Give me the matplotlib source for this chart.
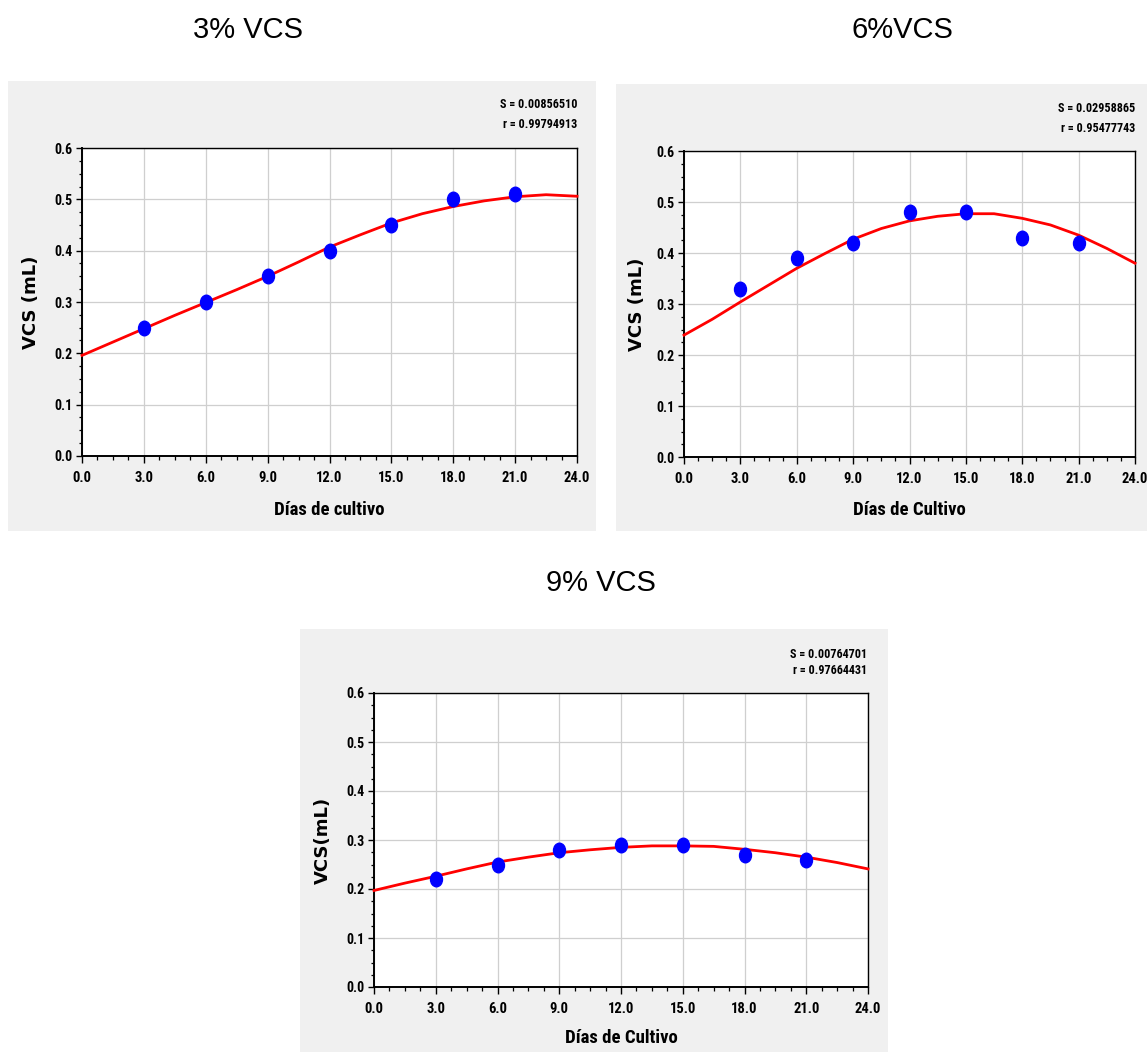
import matplotlib
matplotlib.use("Agg")
import matplotlib.pyplot as plt
import numpy as np
from matplotlib.patches import Rectangle
from matplotlib.path import Path
from matplotlib.ticker import MultipleLocator
from matplotlib.font_manager import FontProperties

# ---------------- data ----------------
dias = [3, 6, 9, 12, 15, 18, 21]

vcs3 = [0.25, 0.30, 0.35, 0.40, 0.45, 0.50, 0.51]
vcs6 = [0.33, 0.39, 0.42, 0.48, 0.48, 0.43, 0.42]
vcs9 = [0.22, 0.25, 0.28, 0.29, 0.29, 0.27, 0.26]

# fitted curves
curve_x = [0, 1.5, 3, 4.5, 6, 7.5, 9, 10.5, 12, 13.5, 15, 16.5, 18, 19.5, 21, 22.5, 24]
fit3 = [0.196, 0.222, 0.248, 0.274, 0.299, 0.324, 0.350, 0.378, 0.407, 0.431, 0.454,
        0.472, 0.486, 0.497, 0.505, 0.509, 0.506]
fit6 = [0.239, 0.270, 0.304, 0.337, 0.370, 0.399, 0.427, 0.448, 0.463, 0.472, 0.477,
        0.477, 0.468, 0.455, 0.435, 0.409, 0.380]
fit9 = [0.197, 0.212, 0.226, 0.241, 0.255, 0.265, 0.274, 0.280, 0.285, 0.288, 0.288,
        0.287, 0.281, 0.274, 0.265, 0.254, 0.241]

titles = ["3% VCS", "6%VCS", "9% VCS"]
xlabels = ["Días de cultivo", "Días de Cultivo", "Días de Cultivo"]
ylabels = ["VCS (mL)", "VCS (mL)", "VCS(mL)"]
stats_S = ["S = 0.00856510", "S = 0.02958865", "S = 0.00764701"]
stats_r = ["r = 0.99794913", "r = 0.95477743", "r = 0.97664431"]

# ---------------- layout ----------------
W, H = 1147, 1052
fig = plt.figure(figsize=(W / 100, H / 100), dpi=100)
fig.patch.set_facecolor("white")

NARROW = dict(family=["Roboto Condensed", "Archivo Narrow", "DejaVu Sans"],
              stretch="condensed", weight="bold")
ARIAL = ["Liberation Sans", "DejaVu Sans"]

def fx(px):
    return px / W

def fy(py):
    return 1 - py / H

panels = [
    dict(bg=(8, 81, 596, 531), ax=(82, 148, 577, 456), title=(248, 30),
         stat_x=577, stat_y=(105, 124), xl_y=510, yl_x=31),
    dict(bg=(616, 84, 1147, 531), ax=(684, 151, 1135, 457), title=(902, 30),
         stat_x=1135, stat_y=(109, 128), xl_y=510, yl_x=637),
    dict(bg=(300, 629, 888, 1052), ax=(374, 693, 868, 987), title=(601, 583),
         stat_x=867, stat_y=(654, 671), xl_y=1038, yl_x=323),
]
values = [vcs3, vcs6, vcs9]
fits = [fit3, fit6, fit9]

circ = Path.unit_circle()
ell = Path(circ.vertices * np.array([0.82, 1.0]), circ.codes)

for i, p in enumerate(panels):
    bx0, by0, bx1, by1 = p["bg"]
    fig.patches.append(Rectangle((fx(bx0), fy(by1)), fx(bx1 - bx0), (by1 - by0) / H,
                                 transform=fig.transFigure, facecolor="#f0f0f0",
                                 edgecolor="none", zorder=-10))
    ax0, aytop, ax1, aybot = p["ax"]
    ax = fig.add_axes([fx(ax0), fy(aybot), fx(ax1 - ax0), (aybot - aytop) / H])
    ax.set_zorder(2)
    ax.set_facecolor("white")
    ax.set_xlim(0, 24)
    ax.set_ylim(0, 0.6)
    ax.xaxis.set_minor_locator(MultipleLocator(0.75))
    ax.yaxis.set_minor_locator(MultipleLocator(0.025))
    xt = np.arange(0, 25, 3)
    yt = np.round(np.arange(0, 0.61, 0.1), 1)
    ax.set_xticks(xt)
    ax.set_xticklabels([f"{v:.1f}" for v in xt])
    ax.set_yticks(yt)
    ax.set_yticklabels([f"{v:.1f}" for v in yt])
    ax.grid(True, which="major", color="#cfcfcf", linewidth=0.9)
    ax.set_axisbelow(True)
    ax.tick_params(axis="x", which="major", direction="out", length=5, width=1.0,
                   pad=6, color="black")
    ax.tick_params(axis="x", which="minor", direction="out", length=3, width=0.9,
                   color="black")
    ax.tick_params(axis="y", which="major", direction="out", length=4, width=1.0,
                   pad=3, color="black")
    ax.tick_params(axis="y", which="minor", direction="out", length=2.5, width=0.9,
                   color="black")
    for lab in ax.get_xticklabels():
        lab.set_fontproperties(FontProperties(size=10.5, **NARROW))
    for lab in ax.get_yticklabels():
        lab.set_fontproperties(FontProperties(size=10, **NARROW))
    for s in ax.spines.values():
        s.set_color("black")
        s.set_linewidth(1.0)
    ax.spines["left"].set_linewidth(1.4)
    ax.spines["bottom"].set_linewidth(1.4)

    ax.plot(curve_x, fits[i], color="#ff0000", linewidth=2.0, zorder=3,
            clip_on=False, solid_joinstyle="round")
    ax.plot(dias, values[i], linestyle="none", marker=ell, markersize=10.5,
            color="#0000ff", markeredgecolor="#0000ff", zorder=4)

    tx, ty = p["title"]
    fig.text(fx(tx), fy(ty), titles[i], ha="center", va="center",
             fontsize=21, family=ARIAL)
    fig.text(fx(p["stat_x"]), fy(p["stat_y"][0]), stats_S[i], ha="right", va="center",
             fontsize=8.7, **NARROW)
    fig.text(fx(p["stat_x"]), fy(p["stat_y"][1]), stats_r[i], ha="right", va="center",
             fontsize=8.7, **NARROW)
    fig.text(fx((ax0 + ax1) / 2), fy(p["xl_y"]), xlabels[i], ha="center", va="center",
             fontsize=13.5, **NARROW)
    fig.text(fx(p["yl_x"]), fy((aytop + aybot) / 2), ylabels[i], ha="center",
             va="center", rotation=90, fontsize=13, fontweight="bold",
             family=["DejaVu Sans"])

fig.savefig("out.png", dpi=100, facecolor="white")
